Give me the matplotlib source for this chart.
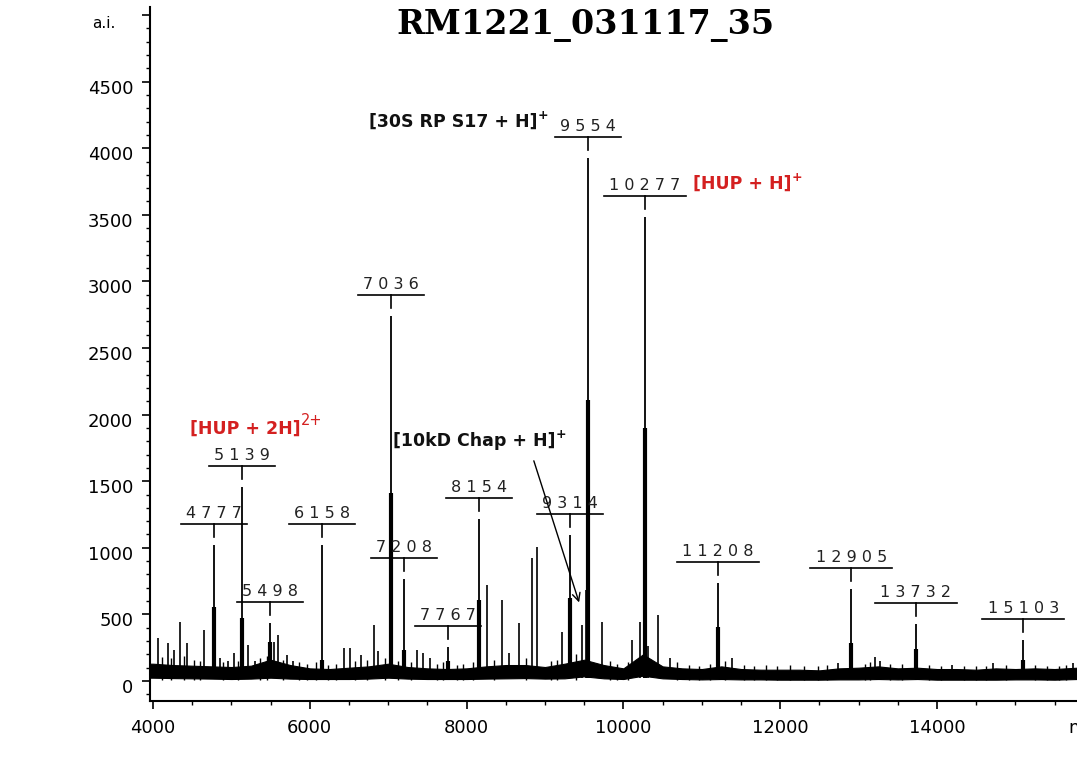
import numpy as np
import matplotlib
matplotlib.use("Agg")
import matplotlib.pyplot as plt
from matplotlib.ticker import MultipleLocator, FixedLocator
from matplotlib.transforms import ScaledTranslation

# ---------------- data ----------------
title = "RM1221_031117_35"

# labelled peaks: m/z, apex intensity, intensity where the broader base ends
label_mz = [4777, 5139, 5498, 6158, 7036, 7208, 7767, 8154, 9314, 9554,
            10277, 11208, 12905, 13732, 15103]
label_top = [1020, 1455, 435, 1020, 2738, 765, 255, 1215, 1095, 3930,
             3480, 735, 690, 428, 308]
label_base = [555, 472, 290, 157, 1410, 232, 150, 610, 620, 2108,
              1898, 405, 285, 240, 157]

# unlabelled spikes
spike_mz = [4064, 4191, 4268, 4344, 4434, 4651, 4855, 4957, 5033, 5212,
            5301, 5543, 5594, 5709, 5780, 6436, 6513, 6653, 6819, 6870,
            7367, 7444, 7533, 8260, 8452, 8541, 8668, 8834, 8898, 9217,
            9472, 9523, 9727, 10110, 10212, 10315, 10443, 10597, 11385,
            12737, 13209, 13270, 14191, 14714, 15735]
spike_top = [322, 285, 232, 442, 285, 382, 172, 150, 210, 270,
             150, 292, 345, 195, 150, 247, 247, 195, 420, 225,
             232, 210, 172, 720, 608, 210, 435, 922, 1005, 367,
             420, 683, 442, 307, 442, 260, 495, 172, 172,
             135, 180, 150, 120, 135, 135]

# small noise spikes on the baseline
noise_mz = [4110, 4230, 4390, 4520, 4600, 4890, 5090, 5370, 5450, 5660,
            5860, 5960, 6080, 6230, 6330, 6580, 6730, 6960, 7120, 7290,
            7620, 7700, 7880, 7960, 8080, 8350, 8760, 9080, 9150, 9400,
            9830, 9920, 10060, 10680, 10840, 10960, 11100, 11300, 11540,
            11660, 11820, 11960, 12120, 12300, 12480, 12600, 13080, 13150,
            13400, 13560, 13900, 14050, 14350, 14500, 14620, 14880, 15250,
            15400, 15560, 15650]
noise_top = [180, 170, 190, 160, 150, 140, 150, 170, 190, 160,
             140, 130, 140, 120, 130, 150, 160, 170, 150, 140,
             130, 140, 120, 130, 140, 160, 170, 150, 160, 200,
             150, 130, 140, 140, 120, 115, 125, 150, 120,
             115, 120, 110, 120, 115, 110, 120, 130, 140,
             130, 125, 120, 115, 110, 115, 110, 120, 120,
             115, 110, 120]

# baseline noise band (lower / upper envelope)
env_mz = [3962, 4000, 4250, 4500, 4750, 5000, 5250, 5500, 5750, 6000, 6250,
          6500, 6750, 7000, 7250, 7500, 7750, 8000, 8250, 8500, 8750,
          9000, 9250, 9500, 9750, 10000, 10250, 10500, 10750, 11000,
          11250, 11500, 11750, 12000, 12250, 12500, 12750, 13000, 13250,
          13500, 13750, 14000, 14250, 14500, 14750, 15000, 15250, 15500,
          15786]
env_low = [25, 25, 22, 20, 18, 15, 18, 25, 18, 15, 15,
           15, 18, 25, 18, 15, 15, 15, 18, 20, 22,
           18, 20, 35, 20, 15, 40, 20, 15, 12,
           15, 12, 12, 10, 10, 10, 12, 12, 15,
           12, 15, 10, 10, 10, 10, 12, 12, 10,
           15]
env_high = [130, 130, 120, 115, 110, 105, 115, 160, 120, 95, 90,
            100, 110, 130, 105, 95, 90, 95, 110, 120, 120,
            105, 130, 160, 120, 95, 200, 110, 95, 90,
            110, 90, 85, 85, 85, 80, 95, 100, 110,
            95, 100, 90, 90, 85, 95, 90, 95, 90,
            100]

x_ticks = [4000, 6000, 8000, 10000, 12000, 14000]
y_ticks = [0, 500, 1000, 1500, 2000, 2500, 3000, 3500, 4000, 4500, 5000]
y_ticklabels = ["0", "500", "1000", "1500", "2000", "2500", "3000",
                "3500", "4000", "4500", ""]

# ---------------- figure ----------------
W, H = 1077, 762
fig = plt.figure(figsize=(W / 100, H / 100), dpi=100)
ax = fig.add_axes([150 / W, 61 / H, 927 / W, 694 / H])
XMIN, XMAX = 3962, 15786
YMIN, YMAX = -150, 5060
ax.set_xlim(XMIN, XMAX)
ax.set_ylim(YMIN, YMAX)

# pixel -> data unit conversions
px_x = (XMAX - XMIN) / 927.0
px_y = (YMAX - YMIN) / 694.0

ax.fill_between(env_mz, env_low, env_high, color="black", lw=0.8,
                edgecolor="black")
ax.vlines(noise_mz, 5, noise_top, color="black", lw=1.0)
ax.vlines(spike_mz, 20, spike_top, color="black", lw=1.2)
ax.vlines(label_mz, 20, label_top, color="black", lw=1.3)
ax.vlines(label_mz, 20, label_base, color="black", lw=3.0)

# peak labels
for mz, top in zip(label_mz, label_top):
    s = str(mz)
    ul = top + 21 * px_y
    half = (len(s) * 16 + 2) / 2 * px_x
    ax.plot([mz - half, mz + half], [ul, ul], color="black", lw=1.2)
    ax.plot([mz, mz], [ul, ul - 13 * px_y], color="black", lw=1.2)
    ax.text(mz, ul + 3 * px_y, " ".join(s), ha="center", va="bottom",
            fontsize=11.5, family="DejaVu Sans", color="#222222")

# annotations
red = "#d42020"
fs = 12.5
t1 = ax.text(8900, 4200, "[30S RP S17 + H]", ha="right", va="center",
             fontsize=fs, fontweight="bold", color="#111111")
ax.annotate("+", xy=(1, 0.85), xycoords=t1, ha="left", va="center",
            fontsize=9, fontweight="bold", color="#111111")
t2 = ax.text(10888, 3730, "[HUP + H]", ha="left", va="center",
             fontsize=fs, fontweight="bold", color=red)
ax.annotate("+", xy=(1, 0.85), xycoords=t2, ha="left", va="center",
            fontsize=9, fontweight="bold", color=red)
t3 = ax.text(4470, 1895, "[HUP + 2H]", ha="left", va="center",
             fontsize=fs, fontweight="bold", color=red)
ax.annotate("2+", xy=(1, 0.95), xycoords=t3, ha="left", va="center",
            fontsize=10.5, color=red)
t4 = ax.text(7060, 1805, "[10kD Chap + H]", ha="left", va="center",
             fontsize=fs, fontweight="bold", color="#111111")
ax.annotate("+", xy=(1, 0.85), xycoords=t4, ha="left", va="center",
            fontsize=9, fontweight="bold", color="#111111")
ax.annotate("", xy=(9446, 570), xytext=(8847, 1673),
            arrowprops=dict(arrowstyle="->", color="black", lw=1.0,
                            mutation_scale=14))

# axes styling
for side in ("top", "right"):
    ax.spines[side].set_visible(False)
for side in ("left", "bottom"):
    ax.spines[side].set_linewidth(1.5)
ax.xaxis.set_major_locator(FixedLocator(x_ticks))
ax.xaxis.set_minor_locator(MultipleLocator(500))
ax.yaxis.set_major_locator(FixedLocator(y_ticks))
ax.set_yticklabels(y_ticklabels)
ax.yaxis.set_minor_locator(MultipleLocator(100))
ax.tick_params(axis="both", which="major", direction="out", length=6,
               width=1.2, labelsize=13, colors="black")
ax.tick_params(axis="both", which="minor", direction="out", length=3,
               width=1.0)
ax.tick_params(axis="x", which="major", pad=7)
ax.tick_params(axis="y", which="major", pad=6)
ax.set_facecolor("white")
shift = ScaledTranslation(0, -5 / 100, fig.dpi_scale_trans)
for lab in ax.get_yticklabels():
    lab.set_transform(lab.get_transform() + shift)

fig.text(115 / W, 1 - 24 / H, "a.i.", ha="right", va="center", fontsize=11)
fig.text(1068 / W, 1 - 728 / H, "m/z", ha="left", va="center", fontsize=13)
fig.text(585 / W, 1 - 26 / H, title, ha="center", va="center",
         fontsize=24, fontweight="bold", family="DejaVu Serif")

fig.savefig("out.png", dpi=100, facecolor="white")
